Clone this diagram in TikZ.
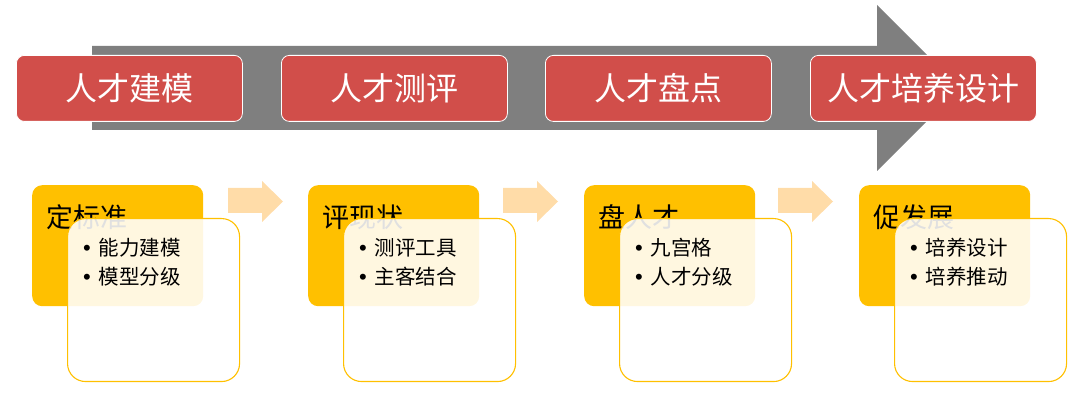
\documentclass[tikz,border=0pt]{standalone}
\usepackage{fontspec}
\setmainfont{Noto Sans CJK SC}
\newfontfamily\bulletfont{Liberation Sans}
\definecolor{arrowgray}{HTML}{7F7F7F}
\definecolor{boxred}{HTML}{D14E4A}
\definecolor{cardyellow}{HTML}{FFC000}
\definecolor{peach}{HTML}{FFDCA8}
\tikzset{
  redbox/.style={draw=white, line width=0.8pt, fill=boxred, rounded corners=8pt,
    minimum width=226pt, minimum height=66pt, text=white, inner sep=0pt,
    font=\fontsize{32}{36}\selectfont},
  cardbox/.style={fill=cardyellow, rounded corners=10pt, minimum width=171pt,
    minimum height=121pt, inner sep=0pt},
  overbox/.style={draw=cardyellow, line width=1.1pt, fill=white, fill opacity=0.88,
    rounded corners=18pt, minimum width=172pt, minimum height=163pt, inner sep=0pt},
  cardtitle/.style={anchor=west, inner sep=0pt, font=\fontsize{27}{32}\selectfont},
  bullet/.style={anchor=west, inner sep=0pt, font=\fontsize{20.5}{24}\selectfont},
  peacharrow/.style={fill=peach, draw=none}
}
\begin{document}
\begin{tikzpicture}[x=1pt,y=-1pt]
\useasboundingbox (0,0) rectangle (1080,403);
% big gray arrow
\fill[arrowgray] (92,46) -- (877,46) -- (877,5) -- (960,88) -- (877,171) -- (877,130) -- (92,130) -- cycle;
% red step boxes
\node[redbox, anchor=north west] (r1) at (16,55) {人才建模};
\node[redbox, anchor=north west] (r2) at (281,55) {人才测评};
\node[redbox, anchor=north west] (r3) at (545,55) {人才盘点};
\node[redbox, anchor=north west] (r4) at (810,55) {人才培养设计};
% peach arrows
\foreach \x/\n in {228/a1,503/a2,778/a3}{
  \fill[peacharrow] (\x,188) -- (\x+34,188) -- (\x+34,181) -- (\x+55,201.5) -- (\x+34,222) -- (\x+34,213) -- (\x,213) -- cycle;
}
% cards
\foreach \x/\t/\a/\b/\n in {32/定标准/能力建模/模型分级/c1, 308/评现状/测评工具/主客结合/c2, 584/盘人才/九宫格/人才分级/c3, 859/促发展/培养设计/培养推动/c4}{
  \node[cardbox, anchor=north west] (\n y) at (\x,185) {};
  \node[cardtitle] (\n t) at (\x+14,217) {\t};
  \node[overbox, anchor=north west] (\n o) at (\x+35,218) {};
  \node[bullet] (\n a) at (\x+51,248) {{\bulletfont\fontsize{22}{24}\selectfont •}\hskip 8pt\a};
  \node[bullet] (\n b) at (\x+51,277) {{\bulletfont\fontsize{22}{24}\selectfont •}\hskip 8pt\b};
}
\end{tikzpicture}
\end{document}
